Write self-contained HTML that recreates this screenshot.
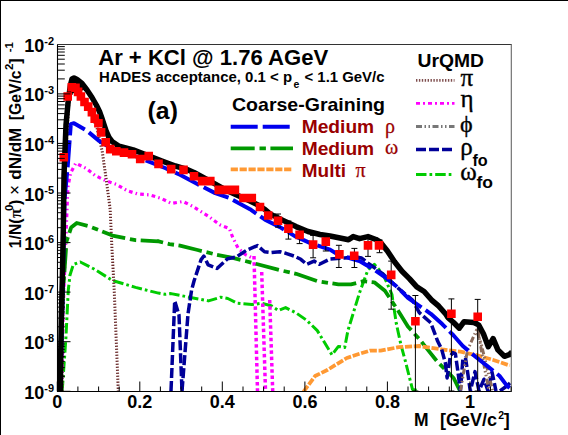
<!DOCTYPE html>
<html><head><meta charset="utf-8"><style>
html,body{margin:0;padding:0;background:#fff;}
svg{display:block;}
text{font-family:"Liberation Sans",sans-serif;}
.b{font-weight:bold;}
.s,.s text,text.s,tspan.s{font-family:"Liberation Serif",serif;}
</style></head><body>
<svg width="568" height="435" viewBox="0 0 568 435">
<rect width="568" height="435" fill="#fff"/>
<rect x="0" y="0" width="568" height="1" fill="#000"/><rect x="0" y="0" width="1" height="435" fill="#000"/>
<defs><clipPath id="pc"><rect x="57.3" y="44.3" width="453.9" height="347"/></clipPath></defs><g clip-path="url(#pc)"><path d="M62.2,391.0 L65.9,338.0 L68.3,290.0 L70.0,275.0 L73.4,264.4 L80.3,262.0 L94.0,269.0 L112.5,280.5 L135.5,287.4 L158.4,293.1 L165.0,294.3 L171.0,293.6 L189.2,297.2 L208.5,300.9 L220.6,297.2 L227.8,298.5 L237.5,303.3 L252.0,304.5 L261.6,303.3 L271.3,305.7 L278.5,310.5 L285.6,307.6 L296.1,312.9 L306.7,320.3 L317.3,330.6 L332.0,354.9 L338.4,346.4 L344.7,347.5 L347.9,330.6 L359.5,292.8 L368.0,269.6 L374.3,264.3 L382.8,273.8 L391.9,294.3 L396.4,324.1 L401.0,345.0 L405.6,362.0 L412.5,389.5 L419.3,390.6" fill="none" stroke="#00cc00" stroke-width="3" stroke-dasharray="10.5 3 2.7 3" stroke-linejoin="round"/><path d="M62.0,391.0 L63.5,250.0 L66.0,150.0 L69.0,100.0 L73.0,90.0 L80.0,94.0 L90.0,110.0 L97.0,128.0 L102.3,151.8 L105.8,176.4 L108.4,195.8 L110.2,209.9 L112.0,250.0 L114.2,290.0 L118.3,391.0" fill="none" stroke="#6a2a2a" stroke-width="3" stroke-dasharray="1.3 1.7" stroke-linejoin="round"/><path d="M61.5,391.0 L63.5,300.0 L66.2,230.0 L67.0,209.9 L67.9,187.0 L70.6,172.9 L75.8,163.2 L86.4,168.5 L95.2,175.5 L105.8,180.8 L116.3,184.3 L126.9,190.5 L137.5,194.0 L149.8,194.9 L161.6,198.6 L171.3,203.4 L182.9,201.5 L192.6,206.3 L208.1,216.0 L219.7,224.7 L229.4,228.6 L232.8,237.6 L238.1,248.2 L245.1,254.4 L252.2,257.9 L254.0,258.0" fill="none" stroke="#ff00ff" stroke-width="3.2" stroke-dasharray="3.7 3.2 1.5 3.2" stroke-linejoin="round"/><path d="M254.0,256.0 L257.5,391.0" fill="none" stroke="#ff00ff" stroke-width="3.5" stroke-dasharray="3.5 2.8" stroke-linejoin="round"/><path d="M261.7,272.0 L265.5,391.0" fill="none" stroke="#ff00ff" stroke-width="3.5" stroke-dasharray="3.5 2.8" stroke-linejoin="round"/><path d="M269.7,300.0 L272.7,391.0" fill="none" stroke="#ff00ff" stroke-width="3.5" stroke-dasharray="3.5 2.8" stroke-linejoin="round"/><path d="M60.0,391.0 L62.5,300.0 L66.5,241.4 L71.1,227.6 L76.8,223.0 L89.5,226.4 L112.5,235.6 L135.5,240.2 L158.4,241.4 L157.7,241.2 L169.4,244.1 L180.0,245.6 L197.6,250.0 L215.2,254.4 L232.8,257.9 L250.4,262.3 L280.0,270.2 L296.1,273.8 L317.3,281.2 L338.4,284.4 L351.0,284.4 L363.7,281.2 L374.3,282.3 L384.9,290.7 L396.4,308.0 L407.9,326.4 L419.3,339.0 L428.5,350.6 L437.6,362.0 L446.8,371.2 L453.6,378.0 L458.2,387.2 L460.0,391.0" fill="none" stroke="#009900" stroke-width="3.8" stroke-dasharray="24 4.8 6.4 4.5" stroke-linejoin="round"/><path d="M303.5,391.8 L315.1,376.0 L327.8,369.7 L346.8,358.0 L359.5,353.8 L370.0,350.6 L380.6,350.6 L398.7,347.2 L419.3,346.0 L442.2,349.5 L460.5,351.7 L476.5,355.2 L492.6,359.7 L509.7,365.5" fill="none" stroke="#ff9933" stroke-width="3.8" stroke-dasharray="7.2 1.7" stroke-linejoin="round"/><path d="M171.0,391.0 L174.7,301.0 L179.0,315.0 L182.0,391.0" fill="none" stroke="#000099" stroke-width="3.5" stroke-dasharray="10 3" stroke-linejoin="round"/><path d="M182.0,391.0 L188.0,314.0 L191.6,290.0 L194.1,280.8 L201.1,259.6 L203.8,256.1 L208.2,264.9 L217.0,268.5 L227.5,258.8 L236.3,257.0 L241.6,253.5 L246.9,250.0 L257.5,245.6 L264.5,251.7 L271.5,252.6 L280.0,251.7 L285.9,253.3 L294.8,256.3 L300.8,259.3 L306.7,264.3 L314.1,261.1 L319.4,264.3 L330.0,259.0 L344.7,258.0 L355.3,256.9 L361.6,258.0 L368.0,263.2 L374.3,267.5 L382.8,273.8 L398.7,288.6 L412.5,300.0 L419.3,312.6 L430.8,322.9 L437.7,341.3 L441.5,348.8 L445.3,362.7 L447.1,377.9 L450.3,356.4 L452.8,352.6 L455.4,353.9 L457.9,371.6 L460.4,391.0 L462.9,359.0 L465.5,357.7 L470.3,391.0 L475.0,371.6 L479.0,391.0 L484.0,379.2 L488.0,391.0 L492.0,372.0 L496.0,391.0" fill="none" stroke="#000099" stroke-width="3.5" stroke-dasharray="10 3" stroke-linejoin="round"/><path d="M500.0,391.0 L506.8,386.0 L510.0,383.0" fill="none" stroke="#000099" stroke-width="3.5" stroke-linejoin="round"/><path d="M460.5,390.6 L467.4,350.6 L476.5,330.0 L481.1,343.7 L486.8,366.6 L492.6,390.6" fill="none" stroke="#8c6c5c" stroke-width="3" stroke-dasharray="6 2.5 1.5 2.5 1.5 2.5" stroke-linejoin="round"/><path d="M478.0,330.0 L483.0,360.0 L489.0,391.0" fill="none" stroke="#8c6c5c" stroke-width="3" stroke-dasharray="6 2.5 1.5 2.5 1.5 2.5" stroke-linejoin="round"/><path d="M60.5,391.0 L61.5,340.0 L62.5,300.0 L64.5,200.0 L67.7,166.5 L70.8,124.2 L74.0,123.2 L86.7,130.6 L99.4,141.1 L110.0,147.5 L135.0,156.0 L165.0,168.0 L180.0,174.8 L198.3,184.6 L215.2,193.1 L229.3,198.0 L250.0,209.2 L265.0,219.7 L280.0,227.1 L294.8,236.1 L309.8,242.8 L330.0,249.6 L338.4,254.8 L359.5,261.1 L374.3,269.6 L384.9,277.2 L396.4,286.3 L407.9,297.8 L419.3,305.8 L430.8,313.8 L442.2,324.1 L453.6,335.5 L462.8,346.0 L476.5,357.5 L488.0,366.6 L499.4,375.8 L506.3,384.9 L509.7,388.0" fill="none" stroke="#0000ee" stroke-width="4" stroke-dasharray="27 5" stroke-linejoin="round"/><path d="M60.3,393.0 L60.6,360.0 L61.3,320.0 L62.3,280.0 L63.3,230.0 L64.0,175.0 L66.0,125.0 L68.3,100.0 L70.5,85.0 L72.0,79.0 L74.0,78.0 L77.0,79.5 L82.0,83.5 L87.0,90.0 L92.0,97.5 L96.3,105.0 L99.5,111.5 L102.0,118.5 L104.5,126.0 L106.5,132.0 L109.0,137.5 L112.0,141.5 L119.1,146.2 L133.2,149.9 L147.3,155.2 L161.3,160.7 L175.4,166.0 L186.1,169.1 L194.0,172.5 L207.3,179.7 L228.4,191.3 L249.5,200.8 L258.0,205.0 L265.0,209.5 L270.0,213.9 L283.0,220.4 L296.0,226.6 L308.0,231.5 L320.0,234.5 L330.0,236.0 L340.0,238.0 L348.5,239.7 L353.2,236.6 L359.5,238.7 L368.0,236.6 L376.0,239.5 L380.0,241.8 L387.4,251.0 L394.7,262.0 L402.0,271.3 L409.4,278.6 L416.8,286.9 L424.1,291.5 L431.4,299.8 L438.8,306.2 L446.1,314.5 L448.0,317.7 L453.6,322.5 L459.3,328.2 L464.1,321.7 L473.8,322.5 L478.6,324.9 L483.4,333.8 L488.3,346.7 L493.1,338.6 L497.9,349.9 L504.4,356.3 L509.2,354.7 L512.0,352.0" fill="none" stroke="#000" stroke-width="5.5" stroke-linejoin="round"/><path d="M65.5,105 L68.5,86 L71.5,79 L75,78.5 L80,82 L84,90 L76,92 L68,96 Z" fill="#000"/><path d="M278.0 214.0V227.1M275.0 214.0h6M275.0 227.1h6M288.4 221.0V239.1M285.4 221.0h6M285.4 239.1h6M299.6 228.0V243.6M296.6 228.0h6M296.6 243.6h6M313.1 235.4V257.8M310.1 235.4h6M310.1 257.8h6M325.8 235.0V251.0M322.8 235.0h6M322.8 251.0h6M338.9 245.3V267.5M335.9 245.3h6M335.9 267.5h6M354.4 248.4V267.5M351.4 248.4h6M351.4 267.5h6M368.0 238.0V256.4M365.0 238.0h6M365.0 256.4h6M379.5 240.0V252.7M376.5 240.0h6M376.5 252.7h6M391.2 261.1V309.2M388.2 261.1h6M388.2 309.2h6M415.4 295.5V391.0M412.4 295.5h6M412.4 391.0h6M451.4 298.9V391.0M448.4 298.9h6M448.4 391.0h6M477.7 299.4V391.0M474.7 299.4h6M474.7 391.0h6" stroke="#000" stroke-width="1" fill="none"/><path d="M59.5 153.0h8.6v8.6h-8.6zM63.4 92.2h8.6v8.6h-8.6zM67.5 83.0h8.6v8.6h-8.6zM71.2 83.5h8.6v8.6h-8.6zM73.8 87.6h8.6v8.6h-8.6zM76.6 92.2h8.6v8.6h-8.6zM80.2 97.7h8.6v8.6h-8.6zM83.9 102.3h8.6v8.6h-8.6zM87.6 107.8h8.6v8.6h-8.6zM90.4 114.3h8.6v8.6h-8.6zM94.1 118.9h8.6v8.6h-8.6zM96.8 128.1h8.6v8.6h-8.6zM101.4 138.0h8.6v8.6h-8.6zM105.9 144.8h8.6v8.6h-8.6zM112.0 146.9h8.6v8.6h-8.6zM119.7 148.3h8.6v8.6h-8.6zM127.7 150.0h8.6v8.6h-8.6zM135.9 154.7h8.6v8.6h-8.6zM144.4 151.8h8.6v8.6h-8.6zM154.2 159.6h8.6v8.6h-8.6zM166.9 164.8h8.6v8.6h-8.6zM179.2 165.6h8.6v8.6h-8.6zM189.7 171.9h8.6v8.6h-8.6zM197.8 176.8h8.6v8.6h-8.6zM206.0 176.8h8.6v8.6h-8.6zM214.4 185.6h8.6v8.6h-8.6zM222.2 185.6h8.6v8.6h-8.6zM230.6 185.6h8.6v8.6h-8.6zM239.1 193.7h8.6v8.6h-8.6zM247.5 193.7h8.6v8.6h-8.6zM255.7 202.7h8.6v8.6h-8.6zM263.9 211.2h8.6v8.6h-8.6zM273.7 216.4h8.6v8.6h-8.6zM284.1 224.3h8.6v8.6h-8.6zM295.3 230.6h8.6v8.6h-8.6zM308.8 240.3h8.6v8.6h-8.6zM321.5 237.3h8.6v8.6h-8.6zM335.1 250.1h8.6v8.6h-8.6zM349.9 251.4h8.6v8.6h-8.6zM363.7 241.1h8.6v8.6h-8.6zM374.7 241.1h8.6v8.6h-8.6zM386.9 270.6h8.6v8.6h-8.6zM411.1 317.0h8.6v8.6h-8.6zM447.1 309.5h8.6v8.6h-8.6zM473.4 312.5h8.6v8.6h-8.6z" fill="#ff0000"/></g><path d="M230.7 126.8H290" stroke="#0000ee" stroke-width="4" stroke-dasharray="27 5"/><path d="M230.7 148.3H293" stroke="#009900" stroke-width="3.8" stroke-dasharray="24 4.8 6.4 4.5"/><path d="M230.7 169.3H292.5" stroke="#ff9933" stroke-width="3.8" stroke-dasharray="7.2 1.7"/><path d="M416 80.4H454.5" stroke="#7f4f4f" stroke-width="2.6" stroke-dasharray="1.4 1.5"/><path d="M416 103.4H454.5" stroke="#ff00ff" stroke-width="2.8" stroke-dasharray="4 3 2 3"/><path d="M416 126.5H454.5" stroke="#777" stroke-width="2.8" stroke-dasharray="6 2.5 1.5 2.5 1.5 2.5"/><path d="M416 149.6H453" stroke="#000099" stroke-width="3.5" stroke-dasharray="10 3"/><path d="M416 174.4H453" stroke="#00cc00" stroke-width="3" stroke-dasharray="10.5 3 2.7 3"/>
<path d="M57.5 391.5V44.5" stroke="#000" stroke-width="1.1" fill="none"/><path d="M57 391.5H512" stroke="#000" stroke-width="1.2" fill="none"/><path d="M57 44.5H511.5" stroke="#333" stroke-width="1.1" fill="none"/><path d="M511.3 44V392" stroke="#666" stroke-width="1.1" fill="none"/><path d="M57.5 391.3h13M57.5 376.4h7.3M57.5 367.6h7.3M57.5 361.4h7.3M57.5 356.6h7.3M57.5 352.7h7.3M57.5 349.4h7.3M57.5 346.5h7.3M57.5 344h7.3M57.5 341.7h13M57.5 326.8h7.3M57.5 318.1h7.3M57.5 311.9h7.3M57.5 307.1h7.3M57.5 303.1h7.3M57.5 299.8h7.3M57.5 297h7.3M57.5 294.4h7.3M57.5 292.1h13M57.5 277.2h7.3M57.5 268.5h7.3M57.5 262.3h7.3M57.5 257.5h7.3M57.5 253.6h7.3M57.5 250.3h7.3M57.5 247.4h7.3M57.5 244.8h7.3M57.5 242.6h13M57.5 227.7h7.3M57.5 218.9h7.3M57.5 212.7h7.3M57.5 207.9h7.3M57.5 204h7.3M57.5 200.7h7.3M57.5 197.8h7.3M57.5 195.3h7.3M57.5 193h13M57.5 178.1h7.3M57.5 169.4h7.3M57.5 163.2h7.3M57.5 158.4h7.3M57.5 154.4h7.3M57.5 151.1h7.3M57.5 148.2h7.3M57.5 145.7h7.3M57.5 143.4h13M57.5 128.5h7.3M57.5 119.8h7.3M57.5 113.6h7.3M57.5 108.8h7.3M57.5 104.9h7.3M57.5 101.5h7.3M57.5 98.7h7.3M57.5 96.1h7.3M57.5 93.9h13M57.5 78.9h7.3M57.5 70.2h7.3M57.5 64h7.3M57.5 59.2h7.3M57.5 55.3h7.3M57.5 52h7.3M57.5 49.1h7.3M57.5 46.6h7.3M57.3 391.5v-10M77.9 391.5v-5M98.6 391.5v-5M119.2 391.5v-5M139.8 391.5v-10M160.4 391.5v-5M181.1 391.5v-5M201.7 391.5v-5M222.3 391.5v-10M243 391.5v-5M263.6 391.5v-5M284.2 391.5v-5M304.9 391.5v-10M325.5 391.5v-5M346.1 391.5v-5M366.8 391.5v-5M387.4 391.5v-10M408 391.5v-5M428.6 391.5v-5M449.3 391.5v-5M469.9 391.5v-10M490.5 391.5v-5M511.2 391.5v-5" stroke="#000" stroke-width="1" fill="none"/>
<text x="54" y="398.8" text-anchor="end" class="b" font-size="18">10<tspan dy="-7" font-size="11">-9</tspan></text><text x="54" y="349.2" text-anchor="end" class="b" font-size="18">10<tspan dy="-7" font-size="11">-8</tspan></text><text x="54" y="299.6" text-anchor="end" class="b" font-size="18">10<tspan dy="-7" font-size="11">-7</tspan></text><text x="54" y="250.1" text-anchor="end" class="b" font-size="18">10<tspan dy="-7" font-size="11">-6</tspan></text><text x="54" y="200.5" text-anchor="end" class="b" font-size="18">10<tspan dy="-7" font-size="11">-5</tspan></text><text x="54" y="150.9" text-anchor="end" class="b" font-size="18">10<tspan dy="-7" font-size="11">-4</tspan></text><text x="54" y="101.4" text-anchor="end" class="b" font-size="18">10<tspan dy="-7" font-size="11">-3</tspan></text><text x="54" y="51.8" text-anchor="end" class="b" font-size="18">10<tspan dy="-7" font-size="11">-2</tspan></text><text x="57.3" y="407.7" text-anchor="middle" class="b" font-size="18">0</text><text x="139.8" y="407.7" text-anchor="middle" class="b" font-size="18">0.2</text><text x="222.3" y="407.7" text-anchor="middle" class="b" font-size="18">0.4</text><text x="304.9" y="407.7" text-anchor="middle" class="b" font-size="18">0.6</text><text x="387.4" y="407.7" text-anchor="middle" class="b" font-size="18">0.8</text><text x="469.9" y="407.7" text-anchor="middle" class="b" font-size="18">1</text>
<g class="b" fill="#000">
<text x="98.2" y="65" font-size="22" textLength="230" lengthAdjust="spacingAndGlyphs">Ar + KCl @ 1.76 AGeV</text>
<text x="99" y="81.8" font-size="14.5" textLength="193" lengthAdjust="spacingAndGlyphs">HADES acceptance, 0.1 &lt; p</text>
<text x="293.5" y="88.2" font-size="10.5">e</text>
<text x="304.5" y="81.8" font-size="14.5" textLength="80" lengthAdjust="spacingAndGlyphs">&lt; 1.1 GeV/c</text>
<text x="147.6" y="118.5" font-size="24" textLength="30.3" lengthAdjust="spacingAndGlyphs">(a)</text>
<text x="232" y="111" font-size="18.5" textLength="153" lengthAdjust="spacingAndGlyphs">Coarse-Graining</text>
<text x="417.5" y="67.4" font-size="18.5" textLength="66.5" lengthAdjust="spacingAndGlyphs">UrQMD</text>
</g>
<g class="b" fill="#990000">
<text x="301.7" y="132.8" font-size="18.5" textLength="72.5" lengthAdjust="spacingAndGlyphs">Medium</text>
<text x="301.7" y="154.6" font-size="18.5" textLength="72.5" lengthAdjust="spacingAndGlyphs">Medium</text>
<text x="301.8" y="176.8" font-size="18.5" textLength="44.2" lengthAdjust="spacingAndGlyphs">Multi</text>
</g>
<g class="s" fill="#990000" stroke="#990000" stroke-width="0.25">
<text x="385" y="132.6" font-size="20">ρ</text>
<text x="385" y="154.1" font-size="20">ω</text>
<text x="355.5" y="176.8" font-size="20">π</text>
</g>
<g class="s" fill="#000" stroke="#000" stroke-width="0.35">
<text x="460.5" y="85.5" font-size="25">π</text>
<text x="460.5" y="107.2" font-size="25">η</text>
<text x="460" y="131.5" font-size="24">ϕ</text>
<text x="460.2" y="155" font-size="25">ρ</text>
<text x="460.2" y="180.2" font-size="25">ω</text>
</g>
<g class="b" fill="#000">
<text x="472.4" y="166.2" font-size="16" textLength="15.3" lengthAdjust="spacingAndGlyphs">fo</text>
<text x="476.5" y="187.6" font-size="16" textLength="16.5" lengthAdjust="spacingAndGlyphs">fo</text>
<text x="414" y="426" font-size="17.5">M</text>
<text x="440" y="426" font-size="18" textLength="57" lengthAdjust="spacingAndGlyphs">[GeV/c</text>
<text x="498.2" y="418.6" font-size="10.5">2</text>
<text x="503.8" y="426" font-size="18">]</text>
</g>
<g class="b" fill="#000" transform="translate(21.1,248.5) rotate(-90)">
<text x="0.3" y="0" font-size="16" textLength="29.8" lengthAdjust="spacingAndGlyphs">1/N(</text>
<text x="30.6" y="0" font-size="17" class="s" font-weight="bold">π</text>
<text x="37.6" y="-8" font-size="11.5">0</text>
<text x="43.6" y="0" font-size="16">)</text>
<text x="53.5" y="0" font-size="18" class="s">×</text>
<text x="68.8" y="0" font-size="16" textLength="52" lengthAdjust="spacingAndGlyphs">dN/dM</text>
<text x="128.3" y="0" font-size="16" textLength="49.8" lengthAdjust="spacingAndGlyphs">[GeV/c</text>
<text x="178.6" y="-8" font-size="11.5">2</text>
<text x="184.7" y="0" font-size="16">]</text>
<text x="196.2" y="-8" font-size="11.5">-1</text>
</g>

</svg></body></html>
